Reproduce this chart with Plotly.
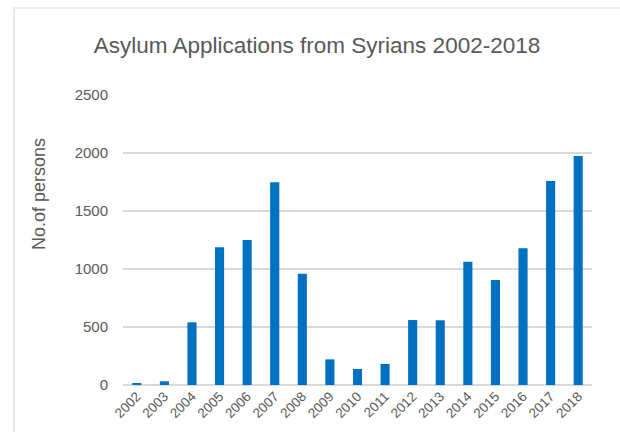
import plotly.graph_objects as go

years = ["2002", "2003", "2004", "2005", "2006", "2007", "2008", "2009", "2010",
         "2011", "2012", "2013", "2014", "2015", "2016", "2017", "2018"]
applications = [10, 32, 540, 1187, 1250, 1747, 960, 221, 138,
                181, 560, 558, 1063, 905, 1178, 1759, 1974]
y_ticks = [0, 500, 1000, 1500, 2000, 2500]

title_text = "Asylum Applications from Syrians 2002-2018"
y_title = "No.of persons"

FONT = "Liberation Sans, Arial, sans-serif"
GREY = "#595959"

fig = go.Figure(go.Bar(
    x=years, y=applications,
    marker=dict(color="#0070c0", line=dict(width=0)),
    width=0.33,
))

L, R, T, B = 123, 28, 95, 47
W, H = 620, 432
pw, ph = W - L - R, H - T - B

fig.update_layout(
    width=W, height=H,
    margin=dict(l=L, r=R, t=T, b=B, pad=0),
    paper_bgcolor="white", plot_bgcolor="white",
    font=dict(family=FONT, color=GREY),
    showlegend=False,
    title=dict(text=title_text, x=(317 - L) / pw, xref="paper", xanchor="center",
               y=1 - 45 / H, yanchor="middle",
               font=dict(size=22.5, color=GREY, family=FONT)),
    xaxis=dict(type="category", tickangle=-45, tickfont=dict(size=13.5, color=GREY),
               showgrid=False, showline=False, ticks="", zeroline=False,
               automargin=False),
    yaxis=dict(range=[0, 2500], tickvals=y_ticks, tickfont=dict(size=15, color=GREY),
               showgrid=True, gridcolor="#d9d9d9", gridwidth=1.5,
               zeroline=True, zerolinecolor="#d9d9d9", zerolinewidth=1.8,
               showline=False, ticks="", ticklabelstandoff=14),
    annotations=[dict(text=y_title, xref="paper", yref="paper",
                      x=(39 - L) / pw, y=(H - B - 194) / ph,
                      xanchor="center", yanchor="middle", textangle=-90,
                      showarrow=False, font=dict(size=18, color=GREY, family=FONT))],
    shapes=[dict(type="rect", xref="paper", yref="paper",
                 x0=(14 - L) / pw, x1=(W + 5 - L) / pw,
                 y0=-(B + 5) / ph, y1=1 + (T - 8) / ph,
                 line=dict(color="#d9d9d9", width=1.2), fillcolor="rgba(0,0,0,0)",
                 layer="below")],
)

fig.write_html("out.html", config={"displayModeBar": False},
               post_script="document.body.style.margin='0';")
